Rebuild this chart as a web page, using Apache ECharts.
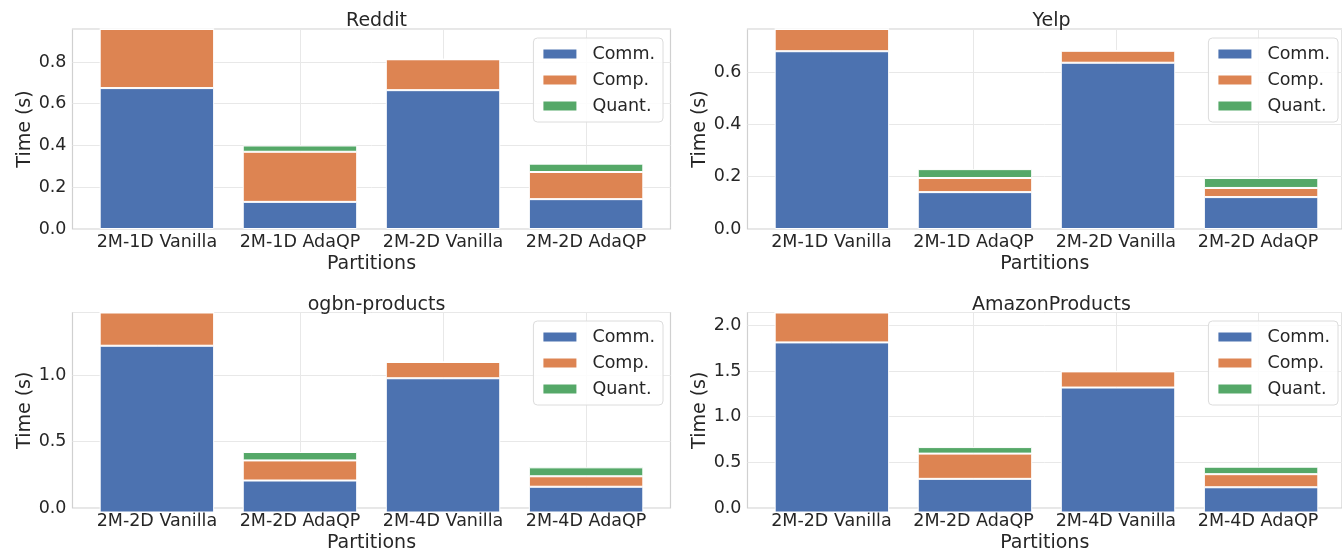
<!DOCTYPE html>
<html>
<head>
    <meta charset="utf-8">
    <title>Time breakdown</title>
    <script src="https://cdn.jsdelivr.net/npm/echarts@6/dist/echarts.min.js"></script>
    <style type="text/css">
        html, body { margin: 0; padding: 0; background: #fff; }
        #chart { width: 1342px; height: 554px; }
    </style>
</head>
<body>
<div id="chart"></div>
<script type="text/javascript">
    // legend names
    var seriesNames = ['Comm.', 'Comp.', 'Quant.'];

    // partitions (x categories)
    var catsTop = ['2M-1D Vanilla', '2M-1D AdaQP', '2M-2D Vanilla', '2M-2D AdaQP'];
    var catsBottom = ['2M-2D Vanilla', '2M-2D AdaQP', '2M-4D Vanilla', '2M-4D AdaQP'];

    // Reddit
    var redditComm = [0.675, 0.130, 0.665, 0.143];
    var redditComp = [0.283, 0.240, 0.148, 0.130];
    var redditQuant = [0, 0.030, 0, 0.040];

    // Yelp
    var yelpComm = [0.680, 0.141, 0.636, 0.122];
    var yelpComp = [0.085, 0.054, 0.046, 0.035];
    var yelpQuant = [0, 0.034, 0, 0.038];

    // ogbn-products
    var ogbnComm = [1.230, 0.236, 0.990, 0.190];
    var ogbnComp = [0.245, 0.148, 0.120, 0.077];
    var ogbnQuant = [0, 0.062, 0, 0.066];

    // AmazonProducts
    var amazonComm = [1.820, 0.360, 1.337, 0.270];
    var amazonComp = [0.320, 0.270, 0.173, 0.140];
    var amazonQuant = [0, 0.070, 0, 0.080];

    var colors = ['#4c72b0', '#dd8452', '#55a868'];
    var textColor = '#262626';
    var gridColor = '#e8e8e8';
    var font = 'DejaVu Sans';

    var panels = [
        { title: 'Reddit', cats: catsTop, data: [redditComm, redditComp, redditQuant], step: 0.2,
          left: 72.5, top: 29, legendRight: 679, legendTop: 38 },
        { title: 'Yelp', cats: catsTop, data: [yelpComm, yelpComp, yelpQuant], step: 0.2,
          left: 747.5, top: 29, legendRight: 4, legendTop: 38 },
        { title: 'ogbn-products', cats: catsBottom, data: [ogbnComm, ogbnComp, ogbnQuant], step: 0.5,
          left: 72.5, top: 312.5, legendRight: 679, legendTop: 321 },
        { title: 'AmazonProducts', cats: catsBottom, data: [amazonComm, amazonComp, amazonQuant], step: 0.5,
          left: 747.5, top: 312.5, legendRight: 4, legendTop: 321 }
    ];

    // matplotlib-like x range: bars at 0..3, width 0.8, 5% margins
    var plotW = 598, plotH = 200;
    var xMin = -0.59, xMax = 3.59;
    var unit = plotW / (xMax - xMin);

    var option = {
        animation: false,
        backgroundColor: '#fff',
        textStyle: { fontFamily: font },
        title: [], grid: [], xAxis: [], yAxis: [], legend: [], series: []
    };

    panels.forEach(function (p, k) {
        var totals = p.cats.map(function (c, i) {
            return p.data[0][i] + p.data[1][i] + p.data[2][i];
        });
        var ymax = Math.max.apply(null, totals);
        var outer = 2 * k, inner = 2 * k + 1;

        option.title.push({
            text: p.title,
            left: p.left + plotW / 2,
            top: p.top - 22,
            textAlign: 'center',
            textStyle: { fontFamily: font, fontSize: 19, fontWeight: 'normal', color: textColor }
        });

        // frame, ticks, gridlines
        option.grid.push({
            left: p.left, top: p.top, width: plotW, height: plotH,
            show: true, borderColor: '#d0d0d0', borderWidth: 1.2, backgroundColor: '#fff'
        });
        // bars
        option.grid.push({
            left: p.left + (0 - xMin - 0.5) * unit, top: p.top,
            width: 4 * unit, height: plotH
        });

        option.xAxis.push({
            type: 'value', gridIndex: outer,
            min: xMin, max: xMax,
            name: 'Partitions', nameLocation: 'middle', nameGap: 26,
            nameTextStyle: { fontFamily: font, fontSize: 19, color: textColor },
            axisLine: { show: false },
            axisTick: { show: false, customValues: [0, 1, 2, 3] },
            axisLabel: {
                customValues: [0, 1, 2, 3], margin: 4,
                fontFamily: font, fontSize: 17.5, color: textColor,
                formatter: function (v) { return p.cats[Math.round(v)]; }
            },
            splitLine: { show: true, lineStyle: { color: gridColor, width: 1 } }
        });
        option.xAxis.push({
            type: 'category', gridIndex: inner, data: p.cats, show: false
        });

        option.yAxis.push({
            type: 'value', gridIndex: outer,
            min: 0, max: ymax, interval: p.step,
            name: 'Time (s)', nameLocation: 'middle', nameGap: 36,
            nameTextStyle: { fontFamily: font, fontSize: 19, color: textColor },
            axisLine: { show: false },
            axisTick: { show: false },
            axisLabel: {
                margin: 6, showMaxLabel: false,
                fontFamily: font, fontSize: 17.5, color: textColor,
                formatter: function (v) { return v.toFixed(1); }
            },
            splitLine: { show: true, lineStyle: { color: gridColor, width: 1 } }
        });
        option.yAxis.push({
            type: 'value', gridIndex: inner, min: 0, max: ymax, show: false,
            splitLine: { show: false }
        });

        option.legend.push({
            data: seriesNames,
            orient: 'vertical',
            right: p.legendRight, top: p.legendTop,
            icon: 'rect', itemWidth: 35, itemHeight: 11, itemGap: 8,
            padding: [7, 8, 7, 8],
            backgroundColor: 'rgba(255,255,255,0.85)',
            borderColor: '#dcdcdc', borderWidth: 1, borderRadius: 4,
            textStyle: { fontFamily: font, fontSize: 17.5, color: textColor, padding: [0, 0, 0, 10] }
        });

        seriesNames.forEach(function (name, s) {
            option.series.push({
                type: 'bar', name: name,
                xAxisIndex: inner, yAxisIndex: inner,
                stack: 'panel' + k,
                barWidth: '80%',
                itemStyle: { color: colors[s], borderColor: '#fff', borderWidth: 1 },
                data: p.data[s]
            });
        });
    });

    var chart = echarts.init(document.getElementById('chart'));
    chart.setOption(option);
</script>
</body>
</html>
